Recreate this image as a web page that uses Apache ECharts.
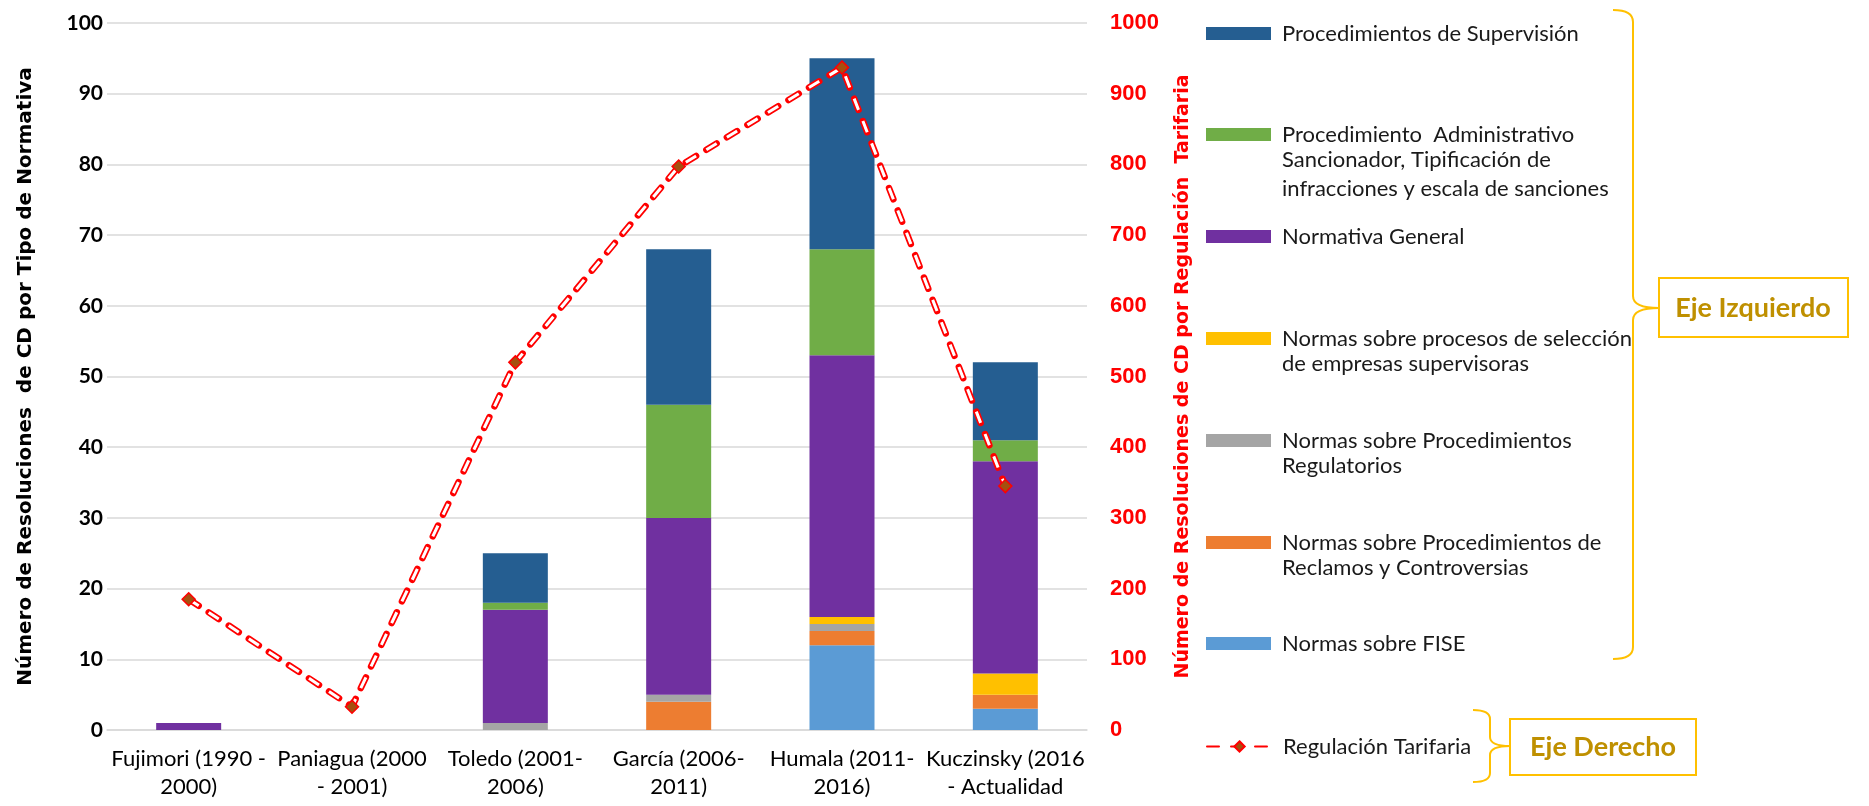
<!DOCTYPE html>
<html><head><meta charset="utf-8">
<script src="https://cdn.jsdelivr.net/npm/echarts@6/dist/echarts.min.js"></script>
<style>html,body{margin:0;padding:0;background:#fff}#c{width:1869px;height:806px}</style>
</head><body><div id="c"></div>
<script>
// ---- data ----
const categories = ['Fujimori (1990 -\n2000)', 'Paniagua (2000\n- 2001)', 'Toledo (2001-\n2006)', 'García (2006-\n2011)', 'Humala (2011-\n2016)', 'Kuczinsky (2016\n- Actualidad'];
const supervision  = [0, 0, 7, 22, 27, 11];
const sancionador  = [0, 0, 1, 16, 15, 3];
const general      = [1, 0, 16, 25, 37, 30];
const seleccion    = [0, 0, 0, 0, 1, 3];
const regulatorios = [0, 0, 1, 1, 1, 0];
const reclamos     = [0, 0, 0, 4, 2, 2];
const fise         = [0, 0, 0, 0, 12, 3];
const tarifaria    = [185, 33, 520, 797, 937, 345];

const names = {
  supervision: 'Procedimientos de Supervisión',
  sancionador: 'Procedimiento Administrativo Sancionador, Tipificación de infracciones y escala de sanciones',
  general: 'Normativa General',
  seleccion: 'Normas sobre procesos de selección de empresas supervisoras',
  regulatorios: 'Normas sobre Procedimientos Regulatorios',
  reclamos: 'Normas sobre Procedimientos de Reclamos y Controversias',
  fise: 'Normas sobre FISE',
  tarifaria: 'Regulación Tarifaria'
};
const legendLines = {
  supervision: ['Procedimientos de Supervisión'],
  sancionador: ['Procedimiento  Administrativo', 'Sancionador, Tipificación de', 'infracciones y escala de sanciones'],
  general: ['Normativa General'],
  seleccion: ['Normas sobre procesos de selección', 'de empresas supervisoras'],
  regulatorios: ['Normas sobre Procedimientos', 'Regulatorios'],
  reclamos: ['Normas sobre Procedimientos de', 'Reclamos y Controversias'],
  fise: ['Normas sobre FISE'],
  tarifaria: ['Regulación Tarifaria']
};
const leftTitle = 'Número de Resoluciones  de CD por Tipo de Normativa';
const rightTitle = 'Número de Resoluciones de CD por Regulación  Tarifaria';
const boxLeftText = 'Eje Izquierdo';
const boxRightText = 'Eje Derecho';

// ---- styles ----
const colors = {
  supervision: '#255E91', sancionador: '#70AD47', general: '#7030A0', seleccion: '#FFC000',
  regulatorios: '#A5A5A5', reclamos: '#ED7D31', fise: '#5B9BD5'
};
const stackOrder = ['fise', 'reclamos', 'regulatorios', 'seleccion', 'general', 'sancionador', 'supervision'];
const values = { supervision, sancionador, general, seleccion, regulatorios, reclamos, fise };
const legendOrder = ['supervision', 'sancionador', 'general', 'seleccion', 'regulatorios', 'reclamos', 'fise', 'tarifaria'];
const legendY = [29, 130, 232, 334, 436, 538, 639, 742];
const legendFont = 'Lato';
const legendSize = 22;
const legendLH = 29.5;

const series = stackOrder.map(k => ({
  name: names[k], type: 'bar', stack: 'tot', barWidth: 65,
  yAxisIndex: 0, data: values[k], itemStyle: { color: colors[k] }
}));
series.push({
  name: names.tarifaria, type: 'line', yAxisIndex: 1, data: tarifaria,
  symbol: 'diamond', showSymbol: false, symbolSize: 12, z: 3,
  itemStyle: { color: '#A5500F', borderColor: '#FF0000', borderWidth: 1.5 },
  lineStyle: { color: '#FF0000', width: 6.5, type: [12, 12], cap: 'round' }
});
series.push({
  name: 'tarifaria-inner', type: 'line', yAxisIndex: 1, data: tarifaria, silent: true,
  symbol: 'none', z: 4,
  lineStyle: { color: '#FFFFFF', width: 3, type: [12, 12], cap: 'butt', opacity: 1 }
});
series.push({
  name: 'tarifaria-markers', type: 'scatter', yAxisIndex: 1, data: tarifaria, silent: true,
  symbol: 'diamond', symbolSize: 13, z: 5,
  itemStyle: { color: '#A5500F', borderColor: '#FF0000', borderWidth: 1.5, opacity: 1 }
});

const legends = legendOrder.map((k, i) => {
  const l = {
    data: [names[k]], orient: 'vertical', left: 1206, top: legendY[i] - 6.5,
    itemWidth: 65, itemHeight: 13, padding: 0, selectedMode: false,
    formatter: () => legendLines[k][0],
    textStyle: { fontFamily: legendFont, fontSize: legendSize, color: '#1a1a1a', padding: [0, 0, 0, 6] }
  };
  if (k !== 'tarifaria') l.icon = 'rect';
  return l;
});

const graphics = [];
legendOrder.forEach((k, i) => {
  legendLines[k].slice(1).forEach((t, j) => {
    graphics.push({
      type: 'text', x: 1282, y: legendY[i] + (j + 1) * legendLH,
      style: { text: t, fontFamily: legendFont, fontSize: legendSize, fill: '#1a1a1a', verticalAlign: 'middle' }
    });
  });
});
const braceStyle = { stroke: '#FFC000', lineWidth: 2, fill: null };
function brace(xL, yT, xV, yTip, xTip, yB, r) {
  return [
    { type: 'bezierCurve', shape: { x1: xL, y1: yT, x2: xV, y2: yT + r, cpx1: xV, cpy1: yT }, style: braceStyle },
    { type: 'line', shape: { x1: xV, y1: yT + r, x2: xV, y2: yTip - r }, style: braceStyle },
    { type: 'bezierCurve', shape: { x1: xV, y1: yTip - r, x2: xTip, y2: yTip, cpx1: xV, cpy1: yTip }, style: braceStyle },
    { type: 'bezierCurve', shape: { x1: xTip, y1: yTip, x2: xV, y2: yTip + r, cpx1: xV, cpy1: yTip }, style: braceStyle },
    { type: 'line', shape: { x1: xV, y1: yTip + r, x2: xV, y2: yB - r }, style: braceStyle },
    { type: 'bezierCurve', shape: { x1: xV, y1: yB - r, x2: xL, y2: yB, cpx1: xV, cpy1: yB }, style: braceStyle }
  ];
}
graphics.push(...brace(1613, 10, 1633, 308, 1659, 659, 12));
graphics.push(...brace(1473, 710, 1490, 746, 1510, 782, 9));
graphics.push({ type: 'rect', shape: { x: 1659, y: 278, width: 189, height: 59 }, style: { stroke: '#FFC000', lineWidth: 2, fill: '#fff' } });
graphics.push({ type: 'text', x: 1753, y: 308, style: { text: boxLeftText, fontFamily: 'Lato', fontWeight: 'bold', fontSize: 27, fill: '#BF9000', align: 'center', verticalAlign: 'middle' } });
graphics.push({ type: 'rect', shape: { x: 1510, y: 719, width: 186, height: 56 }, style: { stroke: '#FFC000', lineWidth: 2, fill: '#fff' } });
graphics.push({ type: 'text', x: 1603, y: 747, style: { text: boxRightText, fontFamily: 'Lato', fontWeight: 'bold', fontSize: 27, fill: '#BF9000', align: 'center', verticalAlign: 'middle' } });

const chart = echarts.init(document.getElementById('c'), null, { renderer: 'canvas' });
chart.setOption({
  animation: false,
  backgroundColor: '#fff',
  grid: { left: 107, right: 782, top: 23, bottom: 76 },
  legend: legends,
  xAxis: {
    type: 'category', data: categories,
    axisLine: { show: true, lineStyle: { color: '#D9D9D9', width: 1.5 } },
    axisTick: { show: false },
    axisLabel: { interval: 0, margin: 15, fontFamily: 'Lato', fontSize: 22, lineHeight: 28, color: '#000' }
  },
  yAxis: [{
    type: 'value', min: 0, max: 100, interval: 10, position: 'left',
    name: leftTitle, nameLocation: 'middle', nameRotate: 90, nameGap: 71,
    nameTextStyle: { fontFamily: 'DejaVu Sans', fontWeight: 'bold', fontSize: 20, color: '#000' },
    axisLabel: { margin: 4, fontFamily: 'Lato', fontWeight: 'bold', fontSize: 21, color: '#000' },
    splitLine: { lineStyle: { color: '#D9D9D9', width: 1.5 } },
    axisLine: { show: false }, axisTick: { show: false }
  }, {
    type: 'value', min: 0, max: 1000, interval: 100, position: 'right',
    name: rightTitle, nameLocation: 'middle', nameRotate: 90, nameGap: 87,
    nameTextStyle: { fontFamily: 'DejaVu Sans', fontWeight: 'bold', fontSize: 19, color: '#FF0000' },
    axisLabel: { margin: 23, fontFamily: 'Liberation Sans', fontWeight: 'bold', fontSize: 22, color: '#FF0000', formatter: v => String(v) },
    splitLine: { show: false }, axisLine: { show: false }, axisTick: { show: false }
  }],
  series: series,
  graphic: graphics
});
</script></body></html>
